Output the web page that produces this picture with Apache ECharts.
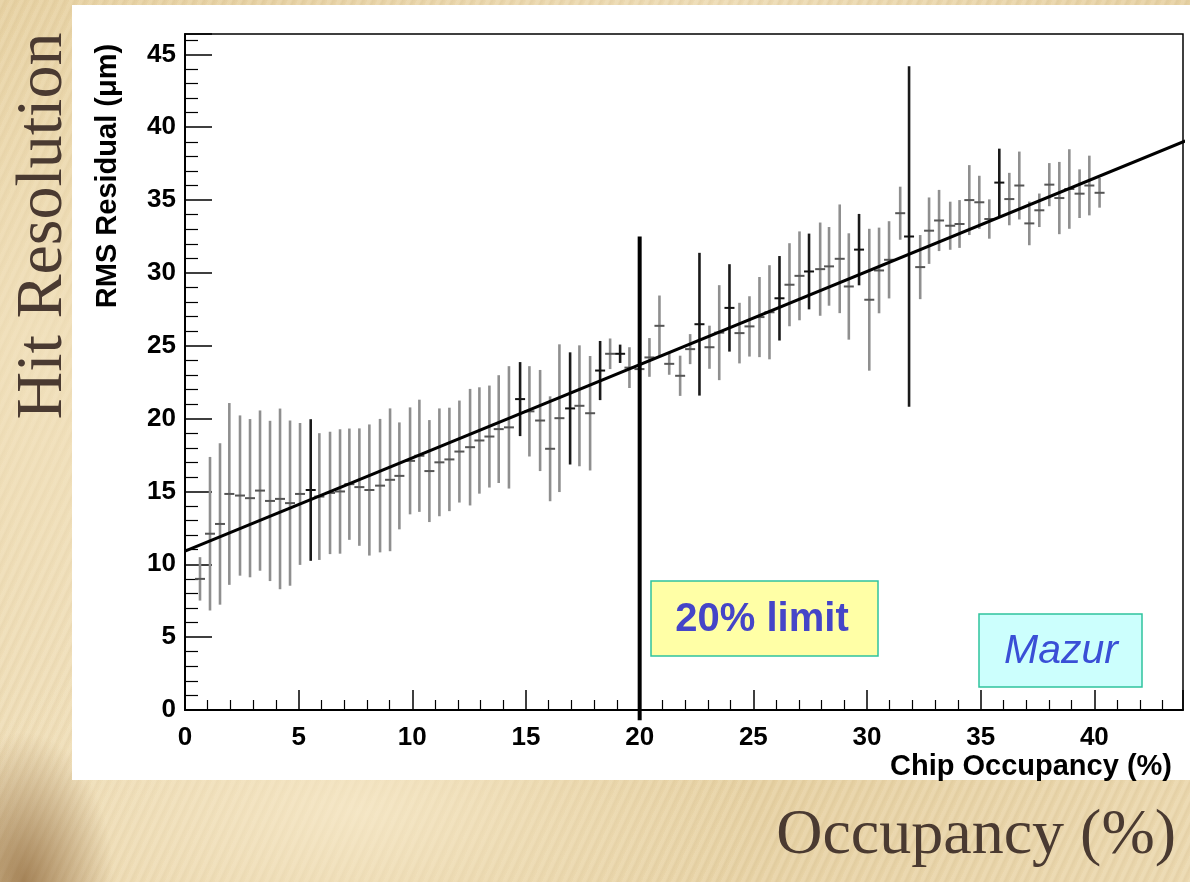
<!DOCTYPE html>
<html><head><meta charset="utf-8">
<script src="https://cdn.jsdelivr.net/npm/echarts@6.0.0/dist/echarts.min.js"></script>
<style>
html,body{margin:0;padding:0;width:1190px;height:882px;overflow:hidden;}
body{
 background:
  radial-gradient(ellipse 90px 150px at 2% 100%, rgba(135,95,50,0.7) 0%, rgba(135,95,50,0) 100%),
  radial-gradient(ellipse 400px 200px at 30% 92%, rgba(250,238,210,0.7) 0%, rgba(250,238,210,0) 100%),
  radial-gradient(ellipse 300px 500px at 3% 40%, rgba(246,232,200,0.6) 0%, rgba(246,232,200,0) 100%),
  repeating-linear-gradient(115deg, rgba(255,255,255,0.08) 0px, rgba(255,255,255,0.08) 3px, rgba(120,90,40,0.06) 5px, rgba(120,90,40,0.0) 9px),
  linear-gradient(135deg, #e4cd9b 0%, #eedcb5 35%, #e5cf9f 65%, #ecd9b0 100%);
}
#panel{position:absolute;left:72px;top:5px;width:1118px;height:775px;background:#fff;}
#chart{position:absolute;left:0;top:0;width:1190px;height:882px;}
</style></head><body><div id="panel"></div><div id="chart"></div>
<script>
// Mean chip occupancy of each bin (%)
const occupancy = [0.66,1.10,1.54,1.95,2.42,2.86,3.30,3.74,4.18,4.62,5.06,5.53,5.91,6.38,6.82,7.23,7.67,8.11,8.58,9.02,
 9.43,9.90,10.31,10.75,11.19,11.63,12.07,12.54,12.95,13.39,13.80,14.25,14.74,15.15,15.62,16.06,16.47,16.94,17.35,17.82,
 18.26,18.70,19.14,19.55,19.99,20.43,20.87,21.30,21.78,22.22,22.63,23.07,23.50,23.95,24.39,24.83,25.27,25.71,26.15,26.59,
 27.03,27.45,27.94,28.33,28.80,29.20,29.65,30.10,30.53,30.97,31.46,31.85,32.34,32.73,33.17,33.66,34.07,34.50,34.94,35.38,
 35.82,36.26,36.70,37.14,37.58,38.02,38.46,38.90,39.35,39.78,40.23];
// RMS residual (um)
const rmsResidual = [9.0,12.1,12.77,14.83,14.72,14.54,15.06,14.35,14.49,14.2,14.83,15.1,14.65,14.9,15.0,15.5,15.3,15.1,15.4,15.8,
 16.07,17.1,17.45,16.4,17.0,17.2,17.74,18.04,18.5,18.77,19.28,19.4,21.34,20.5,19.87,17.93,20.03,20.7,20.88,20.37,
 23.3,24.45,24.45,23.5,23.4,24.2,26.37,23.76,22.94,24.77,26.48,24.9,25.9,27.6,25.87,26.33,26.97,27.3,28.26,29.19,
 29.8,30.1,30.26,30.45,30.97,29.07,31.6,28.16,30.17,30.9,34.1,32.5,30.4,32.9,33.6,33.24,33.36,35.0,34.85,33.7,
 36.2,35.07,36.0,33.4,34.3,36.06,35.14,35.76,35.44,36.0,35.5];
// Error on RMS residual (um)
const rmsError = [1.49,5.27,5.54,6.24,5.5,5.43,5.5,5.5,6.2,5.67,4.87,4.86,4.35,4.2,4.27,3.82,4.03,4.5,4.58,4.9,
 3.67,3.67,3.85,3.5,3.7,3.55,3.5,4.0,3.65,3.5,3.7,4.2,2.54,3.1,3.47,3.6,5.07,3.85,4.15,3.93,
 2.03,1.05,0.63,1.4,1.0,1.33,2.08,0.75,1.38,1.03,4.9,1.48,3.26,3.0,2.08,2.07,2.75,3.23,2.9,2.85,
 3.05,2.6,3.2,2.7,3.73,3.65,2.45,4.87,2.94,2.65,1.82,11.68,2.2,2.28,2.1,1.65,1.64,2.4,1.82,1.35,
 2.33,1.8,2.33,1.5,1.15,1.48,2.48,2.73,1.67,2.05,1.02];
// bins (1-based) whose error bars print darker
const darkBins = [12,33,38,41,43,51,54,59,62,67,72,81];
// linear fit
const fitX = [0, 44];
const fitY = [10.9, 39.06];
// 20% occupancy limit marker
const limitX = 20;
const limitTop = 32.5;
const limitBottom = -0.7;

const points = occupancy.map((x, i) => [x, rmsResidual[i], rmsError[i], darkBins.includes(i + 1) ? 1 : 0]);

function renderErr(params, api) {
  const x = api.value(0), y = api.value(1), e = api.value(2), dark = api.value(3);
  const t = api.coord([x, y + e]), b = api.coord([x, y - e]), c = api.coord([x, y]);
  const col = dark ? '#1a1a1a' : '#8f8f8f';
  return {type: 'group', children: [
    {type: 'line', shape: {x1: t[0], y1: t[1], x2: b[0], y2: b[1]}, style: {stroke: col, lineWidth: 2.6}},
    {type: 'line', shape: {x1: c[0] - 5, y1: c[1], x2: c[0] + 5, y2: c[1]}, style: {stroke: dark ? '#111' : '#555', lineWidth: 2}}
  ]};
}

const chart = echarts.init(document.getElementById('chart'), null, {renderer: 'canvas'});
const sans = 'Liberation Sans, Arial, sans-serif';
const serif = 'Liberation Serif, Times New Roman, serif';
chart.setOption({
  backgroundColor: 'transparent',
  animation: false,
  grid: {left: 185, top: 34, right: 7, bottom: 172, show: true, borderColor: '#000', borderWidth: 1.5, backgroundColor: 'transparent'},
  xAxis: {
    type: 'value', min: 0, max: 43.9, interval: 5,
    axisLine: {lineStyle: {color: '#000', width: 2}},
    axisTick: {inside: true, length: 20, lineStyle: {color: '#000', width: 1.5}},
    minorTick: {show: true, splitNumber: 5, length: 10, lineStyle: {color: '#000', width: 1.2}},
    splitLine: {show: false},
    axisLabel: {color: '#000', fontFamily: sans, fontWeight: 'bold', fontSize: 26, margin: 15, showMaxLabel: false}
  },
  yAxis: {
    type: 'value', min: 0, max: 46.4, interval: 5,
    axisLine: {lineStyle: {color: '#000', width: 2}},
    axisTick: {inside: true, length: 27, lineStyle: {color: '#000', width: 1.5}},
    minorTick: {show: true, splitNumber: 5, length: 13, lineStyle: {color: '#000', width: 1.2}},
    splitLine: {show: false},
    axisLabel: {color: '#000', fontFamily: sans, fontWeight: 'bold', fontSize: 26, margin: 9, showMaxLabel: false}
  },
  series: [
    {type: 'custom', renderItem: renderErr, data: points, z: 3},
    {type: 'line', data: fitX.map((x, i) => [x, fitY[i]]), symbol: 'none', lineStyle: {color: '#000', width: 3}, z: 4},
    {type: 'line', data: [[limitX, limitBottom], [limitX, limitTop]], symbol: 'none', clip: false, lineStyle: {color: '#000', width: 4}, z: 5}
  ],
  graphic: [
    {type: 'text', x: 44, y: 226, rotation: Math.PI / 2, z: 10,
     style: {text: 'Hit Resolution', font: '66px ' + serif, fill: '#4a3a31', textAlign: 'center', textVerticalAlign: 'middle'}},
    {type: 'text', x: 1176, y: 836, z: 10,
     style: {text: 'Occupancy (%)', font: '64px ' + serif, fill: '#4a3a31', textAlign: 'right', textVerticalAlign: 'middle'}},
    {type: 'text', x: 108, y: 176, rotation: Math.PI / 2, z: 10,
     style: {text: 'RMS Residual (\u03bcm)', font: 'bold 29px ' + sans, fill: '#000', textAlign: 'center', textVerticalAlign: 'middle'}},
    {type: 'text', x: 1172, y: 767, z: 10,
     style: {text: 'Chip Occupancy (%)', font: 'bold 29px ' + sans, fill: '#000', textAlign: 'right', textVerticalAlign: 'middle'}},
    {type: 'rect', shape: {x: 651, y: 581, width: 227, height: 75}, z: 20,
     style: {fill: '#ffffa6', stroke: '#2fc39d', lineWidth: 1.5}},
    {type: 'text', x: 762, y: 620, z: 21,
     style: {text: '20% limit', font: 'bold 40px ' + sans, fill: '#4545c8', textAlign: 'center', textVerticalAlign: 'middle'}},
    {type: 'rect', shape: {x: 979, y: 614, width: 163, height: 73}, z: 20,
     style: {fill: '#ccfffd', stroke: '#2fc39d', lineWidth: 1.5}},
    {type: 'text', x: 1061, y: 652, z: 21,
     style: {text: 'Mazur', font: 'italic 41px ' + sans, fill: '#3a4fd6', textAlign: 'center', textVerticalAlign: 'middle'}}
  ]
});
</script></body></html>
